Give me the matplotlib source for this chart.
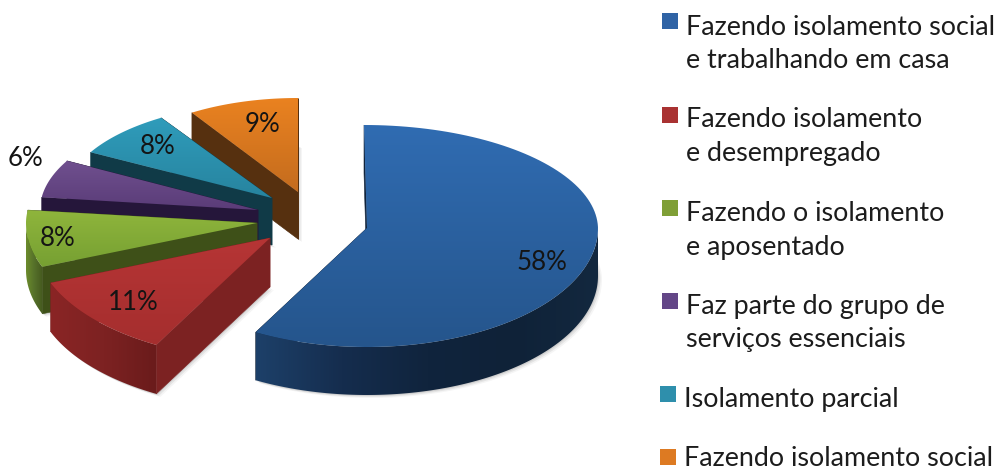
import numpy as np
import matplotlib
matplotlib.use("Agg")
import matplotlib.pyplot as plt
from matplotlib.patches import Polygon, Rectangle
from matplotlib.colors import to_rgb

# ---- data ----
labels = ["Fazendo isolamento social\ne trabalhando em casa",
          "Fazendo isolamento\ne desempregado",
          "Fazendo o isolamento\ne aposentado",
          "Faz parte do grupo de\nserviços essenciais",
          "Isolamento parcial",
          "Fazendo isolamento social"]
values = [58, 11, 8, 6, 8, 9]

# ---- style: exploded 3-D look, in pixel coordinates ----
apex = [(367, 228), (270, 238), (257, 223), (258, 210), (272, 198), (298, 192)]
rad_x = [231, 236, 231, 218, 207, 198]
rad_back = [103, 103, 103, 102, 95, 94]
rad_front = [119, 122, 119, 119, 119, 119]
skew = [-3, 0, 0, 0, 0, 0]
depth = [48, 49, 47, 47, 47, 47]
top_cols = [("#306CB2", "#25558C"), ("#B63535", "#A52E2E"), ("#8FB53C", "#76A032"),
            ("#70508F", "#5A3C78"), ("#2F9CBB", "#27849F"), ("#EA8220", "#C46C1E")]
rim_cols = [["#1D4069", "#152D4E", "#10243D", "#0F2238", "#13283F"],
            ["#8A2525", "#7D2222", "#6A1B1B"],
            ["#6C8C2C", "#55702A", "#45591E"],
            ["#3A2455", "#2A1A40"],
            ["#12404E", "#0F3844"],
            ["#5A3210", "#52300F"]]
wall_cols = ["#10233B", "#7C2222", "#3E5018", "#25163A", "#103A47", "#56300F"]
legend_cols = ["#2F63A5", "#A93232", "#7F9F36", "#634687", "#2E8FAC", "#DD7A22"]
legend_y = [(25, 58), (117, 151), (211, 245), (304, 337), (397,), (456,)]
legend_sq = [(662, 13), (662, 107), (662, 200), (662, 293), (660, 386), (660, 449)]
legend_tx = [686, 686, 686, 686, 684, 684]
pct_pos = [(542, 263), (133, 302), (58, 238), (26, 159), (158, 147), (263, 125)]
FONT = "Lato"
FS = 19.4
FS_PCT = 18.6

fig = plt.figure(figsize=(9.98, 4.71), dpi=100)
ax = fig.add_axes([0, 0, 1, 1])
ax.set_xlim(0, 998)
ax.set_ylim(471, 0)
ax.axis("off")


def arc(i, t0, t1, n=120):
    t = np.radians(np.linspace(t0, t1, n))
    c, s = np.cos(t), np.sin(t)
    b = np.where(c > 0, rad_back[i], rad_front[i])
    sk = np.where(c > 0, skew[i] * c, 0)
    return np.column_stack([apex[i][0] + rad_x[i] * s + sk, apex[i][1] - b * c])


def grad(pts, stops, z, vertical=True):
    pts = np.asarray(pts)
    cols = np.array([to_rgb(c) for c in stops])
    u = np.linspace(0, 1, 256)
    arr = np.column_stack([np.interp(u, np.linspace(0, 1, len(cols)), cols[:, k]) for k in range(3)])
    arr = arr[:, None, :] if vertical else arr[None, :, :]
    x0, y0 = pts.min(axis=0)
    x1, y1 = pts.max(axis=0)
    im = ax.imshow(arr, extent=(x0, x1, y1, y0), origin="upper", aspect="auto", zorder=z,
                   interpolation="bilinear")
    im.set_clip_path(Polygon(pts, closed=True, transform=ax.transData))


fracs = np.array(values) / sum(values) * 360
ends = np.cumsum(fracs)
starts = ends - fracs
order = [5, 4, 3, 2, 1, 0]
z = 2
for i in order:
    t0, t1 = starts[i], ends[i]
    ap = np.array(apex[i], float)
    top = np.vstack([ap, arc(i, t0, t1)])
    down = np.array([0, depth[i]])
    # soft shadow
    for off, al in [((4, 3), 0.06), ((2.5, 2), 0.10), ((1, 1), 0.14)]:
        ax.add_patch(Polygon(top + down + off, closed=True, fc="#555555", ec="none", alpha=al, zorder=z))
    z += 1
    # cut walls
    for t in (t0, t1):
        r = arc(i, t, t, 1)[0]
        ax.add_patch(Polygon([ap, r, r + down, ap + down], closed=True,
                             fc=wall_cols[i], ec=wall_cols[i], lw=0.4, zorder=z))
        z += 1
    # outer rim, front half only
    a, b = max(t0, 90), min(t1, 270)
    if b > a:
        r = arc(i, a, b)
        grad(np.vstack([r, (r + down)[::-1]]), rim_cols[i], z, vertical=False)
        z += 1
    # top surface
    grad(top, top_cols[i], z)
    z += 1

for i, v in enumerate(values):
    ax.text(*pct_pos[i], f"{v}%", ha="center", va="center", fontsize=FS_PCT, family=FONT,
            color="#141414", zorder=200)

for i, lab in enumerate(labels):
    ax.add_patch(Rectangle(legend_sq[i], 16, 16, fc=legend_cols[i], ec="none", zorder=200))
    for line, y in zip(lab.split("\n"), legend_y[i]):
        ax.text(legend_tx[i], y, line, ha="left", va="center_baseline", fontsize=FS, family=FONT,
                color="#1c1c1c", zorder=200)

ax.set_xlim(0, 998)
ax.set_ylim(471, 0)
fig.savefig("out.png", dpi=100, facecolor="white")
